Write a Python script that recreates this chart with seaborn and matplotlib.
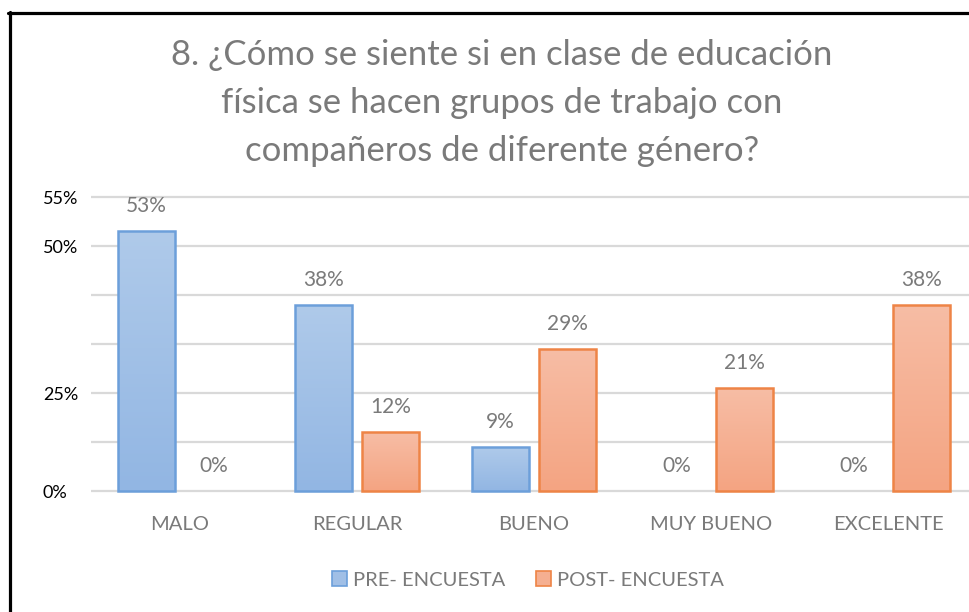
import numpy as np
import pandas as pd
import matplotlib.pyplot as plt
import seaborn as sns
from matplotlib.lines import Line2D
from matplotlib.patches import Patch
from matplotlib.colors import LinearSegmentedColormap

sns.set_theme(style="white")
plt.rcParams['font.family'] = ['Lato', 'DejaVu Sans']

# datos
categorias = ['MALO', 'REGULAR', 'BUENO', 'MUY BUENO', 'EXCELENTE']
pre_encuesta = [53, 38, 9, 0, 0]
post_encuesta = [0, 12, 29, 21, 38]
series = ['PRE- ENCUESTA', 'POST- ENCUESTA']
ytick_pos = [0, 10, 20, 30, 40, 50, 60]
ytick_txt = ['0%', '', '25%', '', '', '50%', '55%']

titulo = ('8. ¿Cómo se siente si en clase de educación\n'
          'física se hacen grupos de trabajo con\n'
          'compañeros de diferente género?')

df = pd.DataFrame({
    'categoria': categorias * 2,
    'valor': pre_encuesta + post_encuesta,
    'encuesta': [series[0]] * len(categorias) + [series[1]] * len(categorias),
})

relleno = {series[0]: '#A0BFE6', series[1]: '#F5AF91'}
degradado = [('#AFCAEA', '#92B6E3'), ('#F7BDA5', '#F4A482')]
bordes = ['#6C9FDA', '#EE8446']
gris = '#7A7A7A'

fig = plt.figure(figsize=(9.69, 6.12), dpi=100)
ax = fig.add_axes([0.0944, 0.1929, 0.9133, 0.4932])

sns.barplot(data=df, x='categoria', y='valor', hue='encuesta', order=categorias,
            hue_order=series, palette=relleno, saturation=1, width=0.763, gap=0.156,
            linewidth=1.8, ax=ax, zorder=3, legend=False)

# relleno en degradado y borde de cada barra
grad = np.linspace(0, 1, 100).reshape(-1, 1)
for cont, ec, (c_top, c_bot) in zip(ax.containers, bordes, degradado):
    cmap = LinearSegmentedColormap.from_list('g', [c_top, c_bot])
    for barra in cont:
        h = barra.get_height()
        if h <= 0:
            barra.set_visible(False)
            continue
        x0 = barra.get_x()
        w = barra.get_width()
        im = ax.imshow(grad, cmap=cmap, extent=[x0, x0 + w, 0, h], aspect='auto',
                       zorder=3.2, interpolation='bilinear')
        im.set_clip_path(barra)
        barra.set_facecolor('none')
        barra.set_edgecolor(ec)
        barra.set_zorder(3.4)
    ax.bar_label(cont, labels=[f'{b.get_height():.0f}%' for b in cont],
                 padding=11, color=gris, fontsize=15)

ax.set_xlim(-0.5, 4.5)
ax.set_ylim(-0.6, 61)
ax.set_yticks(ytick_pos)
ax.set_yticklabels(ytick_txt)
for t in ax.get_yticklabels():
    t.set_ha('left')
ax.tick_params(axis='y', length=0, pad=35, labelsize=13, labelcolor='black')
ax.tick_params(axis='x', length=0, pad=16, labelsize=14.5, labelcolor=gris)
ax.grid(axis='y', color='#D9D9D9', linewidth=1.6, zorder=0)
ax.set_axisbelow(True)
ax.set_xlabel('')
ax.set_ylabel('')
for s in ax.spines.values():
    s.set_visible(False)

handles = [Patch(facecolor=relleno[s], edgecolor=ec, linewidth=1.2)
           for s, ec in zip(series, bordes)]
ax.legend(handles, series, loc='center', bbox_to_anchor=(528 / 969, 1 - 580 / 612),
          bbox_transform=fig.transFigure, ncol=2, frameon=False,
          handlelength=0.75, handleheight=0.75, handletextpad=0.3,
          columnspacing=1.5, fontsize=14.5, labelcolor=gris)

fig.text(502 / 969, 1 - 103 / 612, titulo, ha='center', va='center',
         fontsize=25, color=gris, linespacing=1.62)

# marco negro del recuadro
fig.add_artist(Line2D([8 / 969, 1.0], [1 - 13 / 612] * 2, color='black', lw=2.3,
                      transform=fig.transFigure))
fig.add_artist(Line2D([9.5 / 969] * 2, [0.0, 1 - 12 / 612], color='black', lw=2.3,
                      transform=fig.transFigure))

fig.savefig('out.png', dpi=100)
